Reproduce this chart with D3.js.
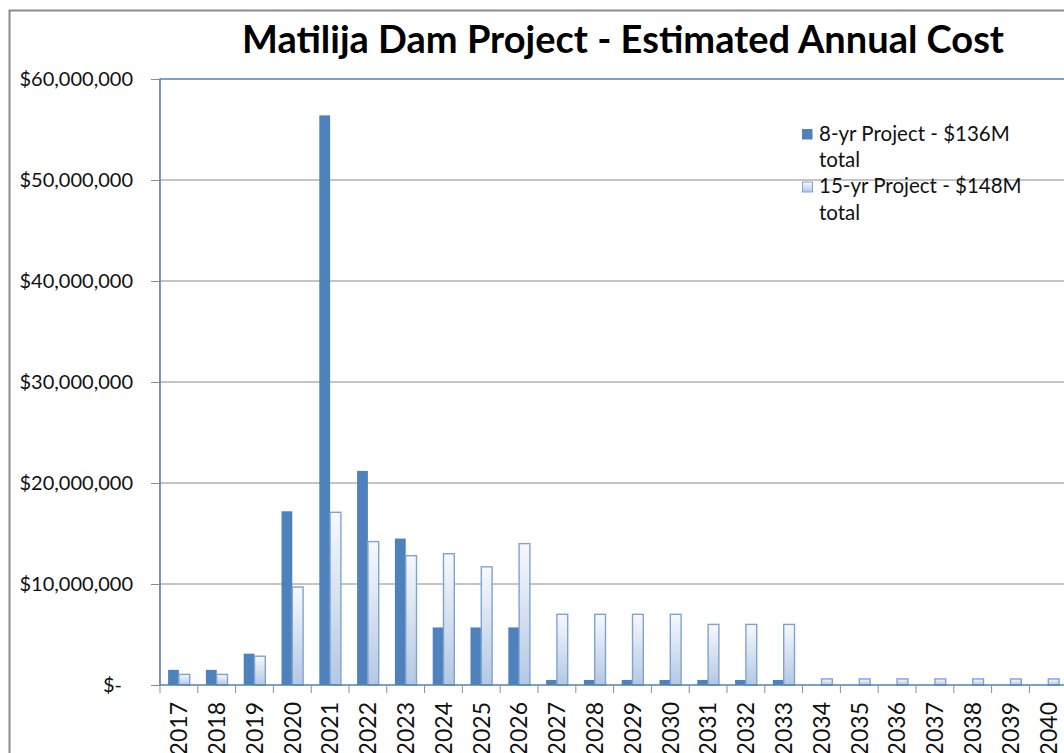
<!DOCTYPE html>
<head>
  <meta charset="utf-8">
  <script src="https://d3js.org/d3.v7.min.js"></script>
  <style>
    body { margin:0; background:#fff; }
    svg { display:block; font-family: Lato, "Open Sans", sans-serif; }
  </style>
</head>
<body>
  <svg width="1064" height="753"></svg>
  <script>
    // values in millions of dollars
    var years = ['2017','2018','2019','2020','2021','2022','2023','2024','2025','2026','2027','2028',
                 '2029','2030','2031','2032','2033','2034','2035','2036','2037','2038','2039','2040'];
    var project8 = [1.5, 1.5, 3.1, 17.2, 56.4, 21.2, 14.5, 5.7, 5.7, 5.7, 0.5, 0.5,
                    0.5, 0.5, 0.5, 0.5, 0.5, 0, 0, 0, 0, 0, 0, 0];
    var project15 = [1.05, 1.05, 2.85, 9.7, 17.1, 14.2, 12.8, 13.0, 11.7, 14.0, 7.0, 7.0,
                     7.0, 7.0, 6.0, 6.0, 6.0, 0.6, 0.6, 0.6, 0.6, 0.6, 0.6, 0.6];
    var legendLines = [['8-yr Project - $136M', 'total'], ['15-yr Project - $148M', 'total']];
    var yTicks = [0, 10, 20, 30, 40, 50, 60];
    var title = 'Matilija Dam Project - Estimated Annual Cost';

    var margin = {top: 79, left: 160, bottom: 685};
    var band = 37.8;

    var svg = d3.select('svg');

    // gradient for the 15-yr bars
    var grad = svg.append('defs').append('linearGradient')
      .attr('id', 'g15').attr('x1', 0).attr('y1', 0).attr('x2', 0).attr('y2', 1);
    grad.append('stop').attr('offset', '0%').attr('stop-color', '#f7f9fd');
    grad.append('stop').attr('offset', '100%').attr('stop-color', '#b3c8e3');

    // chart frame
    svg.append('rect')
      .attr('x', 9.5).attr('y', 10.5).attr('width', 1200).attr('height', 900)
      .attr('fill', 'none').attr('stroke', '#8a8a8a').attr('stroke-width', 2);

    svg.append('text')
      .attr('x', 623).attr('y', 53)
      .attr('text-anchor', 'middle')
      .style('font-weight', 'bold').style('font-size', '38px')
      .attr('fill', '#000')
      .text(title);

    // scales
    var x0 = d3.scaleBand()
      .domain(years)
      .range([margin.left, margin.left + band * years.length])
      .padding(0);
    var x1 = d3.scaleBand()
      .domain([0, 1])
      .range([0, x0.bandwidth()])
      .paddingInner(0).paddingOuter(0.75);
    var y = d3.scaleLinear()
      .domain([0, 60])
      .range([margin.bottom, margin.top]);

    // gridlines
    svg.append('g').selectAll('line')
      .data(yTicks.slice(1, -1))
      .enter().append('line')
      .attr('x1', margin.left).attr('x2', 1100)
      .attr('y1', d => y(d)).attr('y2', d => y(d))
      .attr('stroke', '#b0b0b0').attr('stroke-width', 1.3);

    // bars
    var data = years.map((yr, i) => ({year: yr, vals: [project8[i], project15[i]]}));
    var groups = svg.append('g').selectAll('g')
      .data(data)
      .enter().append('g')
      .attr('transform', d => 'translate(' + x0(d.year) + ',0)');
    groups.selectAll('rect')
      .data(d => d.vals.map((v, k) => ({k: k, v: v})).filter(e => e.v > 0))
      .enter().append('rect')
      .attr('x', e => x1(e.k))
      .attr('y', e => y(e.v))
      .attr('width', x1.bandwidth())
      .attr('height', e => y(0) - y(e.v))
      .attr('fill', e => e.k === 0 ? '#4f81bd' : 'url(#g15)')
      .attr('stroke', e => e.k === 0 ? 'none' : '#7fa3d1')
      .attr('stroke-width', 1.4);

    // plot area border (blue)
    svg.append('path')
      .attr('d', 'M1100,' + margin.top + 'H' + margin.left + 'V' + margin.bottom + 'H1100')
      .attr('fill', 'none').attr('stroke', '#4f81bd').attr('stroke-width', 1.6);

    // y axis
    var yAxis = d3.axisLeft(y)
      .tickValues(yTicks)
      .tickSize(8)
      .tickFormat(d => d === 0 ? '$-' : '$' + d3.format(',')(d * 1e6));
    var ya = svg.append('g')
      .attr('transform', 'translate(' + (margin.left - 1) + ',0)')
      .call(yAxis);
    ya.select('.domain').attr('stroke', '#8c8c8c');
    ya.selectAll('.tick line').attr('stroke', '#8c8c8c');
    ya.selectAll('.tick text')
      .attr('x', d => d === 0 ? -37 : -26)
      .attr('fill', '#111')
      .style('font-size', '20px').style('font-family', 'Lato, sans-serif');

    // x axis
    var xAxis = d3.axisBottom(x0).tickSize(0).tickSizeOuter(0);
    var xa = svg.append('g')
      .attr('transform', 'translate(0,' + margin.bottom + ')')
      .call(xAxis);
    xa.select('.domain').remove();
    xa.selectAll('.tick text')
      .attr('transform', 'rotate(-90)')
      .attr('text-anchor', 'end')
      .attr('x', -17).attr('y', 0).attr('dy', '0.36em')
      .attr('fill', '#111')
      .style('font-size', '23px').style('font-family', 'Lato, sans-serif');
    // tick marks at category boundaries
    xa.selectAll('.bound')
      .data(years)
      .enter().append('line')
      .attr('x1', d => x0(d)).attr('x2', d => x0(d))
      .attr('y1', 0).attr('y2', 8)
      .attr('stroke', '#8c8c8c');

    // legend
    var legend = svg.append('g').attr('transform', 'translate(802,0)');
    legendLines.forEach((ln, i) => {
      var top = 129 + i * 52.5;
      legend.append('rect')
        .attr('x', i === 0 ? 0 : 0.5).attr('y', top + (i === 0 ? 0 : 0.5))
        .attr('width', i === 0 ? 10.5 : 10).attr('height', i === 0 ? 10.5 : 10)
        .attr('fill', i === 0 ? '#4f81bd' : 'url(#g15)')
        .attr('stroke', i === 0 ? 'none' : '#7fa3d1');
      ln.forEach((t, j) => {
        legend.append('text')
          .attr('x', 17).attr('y', top + 11.5 + j * 26.5)
          .attr('fill', '#111')
          .style('font-size', '20.5px')
          .text(t);
      });
    });
  </script>
</body>
